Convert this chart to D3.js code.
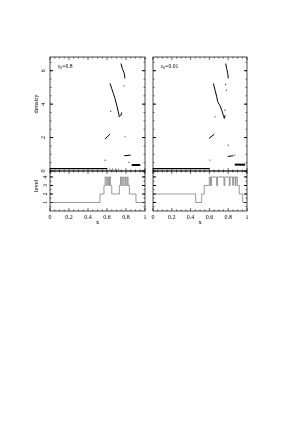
<!DOCTYPE html>
<html><head><meta charset="utf-8">
<script src="https://cdn.jsdelivr.net/npm/d3@7"></script>
<style>body{margin:0;background:#fff}svg{display:block;will-change:transform;opacity:0.999}text{font-family:"Liberation Serif","DejaVu Serif",serif;fill:#000}</style>
</head><body><svg id="c" width="305" height="422"></svg>
<script>
// ---------- data ----------
const panelLabels = ["0.8", "0.01"];
const xTicks = [0, 0.2, 0.4, 0.6, 0.8, 1];
const xTickLabels = ["0", "0.2", "0.4", "0.6", "0.8", "1"];
const densityTicks = [0, 2, 4, 6];
const levelTicks = [1, 2, 3, 4];

// density: particle streaks (polylines of [x, density]) and isolated particles
const segsLeft = [
  [[0.747,6.43],[0.761,6.13],[0.782,5.84],[0.789,5.54]],
  [[0.632,5.24],[0.649,4.94],[0.667,4.64],[0.684,4.34],[0.702,3.94],[0.719,3.54],[0.73,3.24],[0.747,3.34],[0.755,3.5]],
  [[0.579,1.91],[0.632,2.21]],
  [[0.78,0.91],[0.85,0.95]]
];
const baseLeft = [[[0,0.14],[0.6,0.14]]];
const thickLeft = [[[0.86,0.36],[0.95,0.36]]];
const dotsLeft = [[0.78,5.1],[0.64,3.58],[0.79,2.05],[0.58,0.65],[0.83,0.52],[0.63,0.12],[0.66,0.12],[0.69,0.12],[0.72,0.12]];

const segsRight = [
  [[0.773,6.43],[0.784,6.13],[0.795,5.84],[0.801,5.54]],
  [[0.642,5.24],[0.66,4.84],[0.678,4.44],[0.688,4.14],[0.713,3.9],[0.731,3.64],[0.748,3.34],[0.759,3.15],[0.766,3.34]],
  [[0.596,1.95],[0.652,2.2]],
  [[0.795,0.87],[0.855,0.91]]
];
const baseRight = [[[0,0.14],[0.6,0.14]]];
const thickRight = [[[0.87,0.38],[0.98,0.38]]];
const dotsRight = [[0.773,5.18],[0.78,4.84],[0.766,3.64],[0.66,3.24],[0.80,1.55],[0.606,0.66],[0.87,0.95]];

// refinement level: step starts [x, level]; last step runs to x=1
const levelLeft = [[0,1],[0.526,2],[0.568,3],[0.580,4],[0.592,3],[0.603,4],[0.615,3],[0.626,4],[0.636,3],[0.650,2],
  [0.73,3],[0.742,4],[0.754,3],[0.766,4],[0.778,3],[0.79,4],[0.80,3],[0.812,4],[0.822,3],[0.835,2],[0.905,1]];
const levelRight = [[0,2],[0.454,1],[0.518,2],[0.545,3],[0.599,4],[0.612,3],[0.622,4],[0.677,3],[0.686,4],[0.755,3],
  [0.764,4],[0.812,3],[0.82,4],[0.848,3],[0.855,4],[0.875,3],[0.882,4],[0.897,3],[0.918,2],[0.954,1]];

// ---------- drawing ----------
const svg = d3.select("#c");
const topY = [57, 171], botY = [171, 211];
const panels = [
  {x:[50,145], lab:panelLabels[0], segs:segsLeft, base:baseLeft, thick:thickLeft, dots:dotsLeft, lev:levelLeft, yl:true},
  {x:[153,247], lab:panelLabels[1], segs:segsRight, base:baseRight, thick:thickRight, dots:dotsRight, lev:levelRight, yl:false}
];
const yD = d3.scaleLinear().domain([0, 6.82]).range([topY[1], topY[0]]);
const yL = d3.scaleLinear().domain([0, 4.7]).range([botY[1], botY[0]]);
const fs = 6;

panels.forEach(p => {
  const x = d3.scaleLinear().domain([0,1]).range(p.x);
  const g = svg.append("g");
  function xt(y, dir, major, minor) {
    d3.range(0, 1.0001, 0.05).forEach(v => {
      const isMaj = Math.abs(v*5 - Math.round(v*5)) < 1e-6;
      const len = isMaj ? major : minor;
      g.append("line").attr("x1", x(v)).attr("x2", x(v)).attr("y1", y).attr("y2", y + dir*len)
        .attr("stroke","#000").attr("stroke-width",0.6);
    });
  }
  function yt(scale, vals, minVals) {
    [p.x[0], p.x[1]].forEach((xx, i) => {
      const dir = i === 0 ? 1 : -1;
      minVals.forEach(v => g.append("line").attr("x1", xx).attr("x2", xx + dir*1.5).attr("y1", scale(v)).attr("y2", scale(v)).attr("stroke","#000").attr("stroke-width",0.6));
      vals.forEach(v => g.append("line").attr("x1", xx).attr("x2", xx + dir*3).attr("y1", scale(v)).attr("y2", scale(v)).attr("stroke","#000").attr("stroke-width",1));
    });
  }
  xt(topY[0], 1, 3, 1.5); xt(topY[1], -1, 3, 1.5);
  xt(botY[0], 1, 3, 1.5); xt(botY[1], -1, 3, 1.5);
  yt(yD, densityTicks, d3.range(0.5, 6.8, 0.5));
  yt(yL, levelTicks, d3.range(0.5, 4.7, 0.5));

  g.append("rect").attr("x", p.x[0]).attr("y", topY[0]).attr("width", p.x[1]-p.x[0]).attr("height", topY[1]-topY[0])
    .attr("fill","none").attr("stroke","#000").attr("stroke-width",0.7);
  g.append("rect").attr("x", p.x[0]).attr("y", botY[0]).attr("width", p.x[1]-p.x[0]).attr("height", botY[1]-botY[0])
    .attr("fill","none").attr("stroke","#000").attr("stroke-width",0.7);

  const line = d3.line().x(d => x(d[0])).y(d => yD(d[1]));
  p.segs.forEach(s => g.append("path").attr("d", line(s)).attr("fill","none").attr("stroke","#000").attr("stroke-width",1.0).attr("stroke-linejoin","round"));
  p.base.forEach(s => g.append("path").attr("d", line(s)).attr("fill","none").attr("stroke","#000").attr("stroke-width",1.2));
  p.thick.forEach(s => g.append("path").attr("d", line(s)).attr("fill","none").attr("stroke","#000").attr("stroke-width",2));
  p.dots.forEach(d => g.append("circle").attr("cx", x(d[0])).attr("cy", yD(d[1])).attr("r", 0.55).attr("fill","#000"));

  const pts = p.lev.concat([[1, p.lev[p.lev.length-1][1]]]);
  const sline = d3.line().curve(d3.curveStepAfter).x(d => x(d[0])).y(d => yL(d[1]));
  g.append("path").attr("d", sline(pts)).attr("fill","none").attr("stroke","#555").attr("stroke-width",0.6);

  xTicks.forEach((v, i) => g.append("text").attr("x", x(v)).attr("y", 218.5).attr("text-anchor","middle")
    .attr("font-size", fs).text(xTickLabels[i]));
  g.append("text").attr("x", (p.x[0]+p.x[1])/2).attr("y", 224).attr("text-anchor","middle").attr("font-size", fs+0.5).text("x");

  const t = g.append("text").attr("x", p.x[0] + 8).attr("y", 68).attr("font-size", 5.6);
  t.append("tspan").text("ε");
  t.append("tspan").attr("dy", 1.3).attr("font-size", 4).text("0");
  t.append("tspan").attr("dy", -1.3).text("=" + p.lab);

  if (p.yl) {
    densityTicks.forEach(v => g.append("text").attr("transform", `translate(44.5,${yD(v)}) rotate(-90)`)
      .attr("text-anchor","middle").attr("font-size", fs).text(v));
    levelTicks.forEach(v => g.append("text").attr("transform", `translate(47,${yL(v)}) rotate(-90)`)
      .attr("text-anchor","middle").attr("font-size", fs).text(v));
    g.append("text").attr("transform", `translate(38,104) rotate(-90)`).attr("text-anchor","middle").attr("font-size", fs+0.5).text("density");
    g.append("text").attr("transform", `translate(38,186) rotate(-90)`).attr("text-anchor","middle").attr("font-size", fs+0.5).text("level");
  }
});
</script></body></html>
